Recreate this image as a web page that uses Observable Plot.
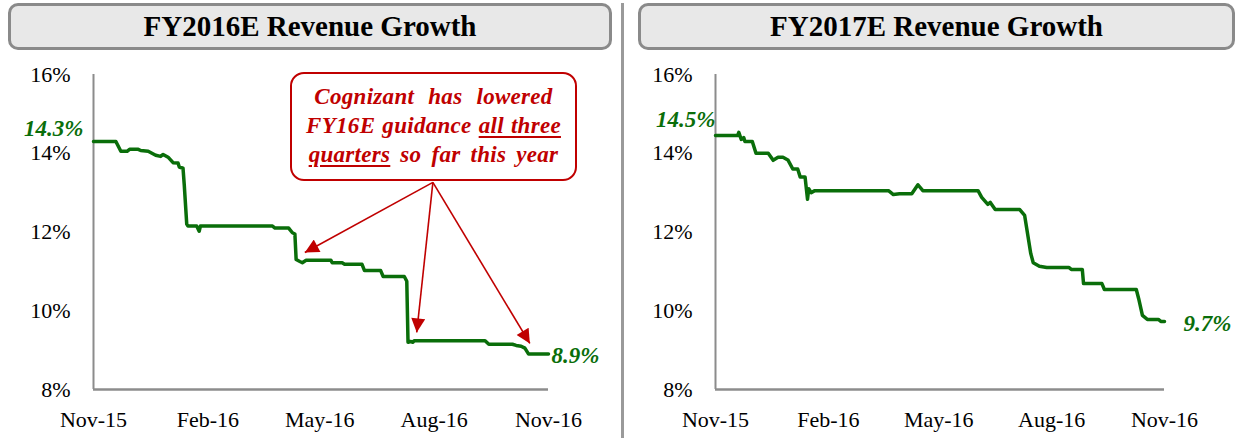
<!DOCTYPE html>
<html>
<head>
<meta charset="utf-8">
<script src="https://cdn.jsdelivr.net/npm/d3@7"></script>
<script src="https://cdn.jsdelivr.net/npm/@observablehq/plot@0.6"></script>
<style>
  body { margin: 0; background: #fff; }
  #wrap { position: relative; width: 1239px; height: 438px; overflow: hidden; font-family: "Liberation Serif", serif; }
  .title { position: absolute; top: 3px; height: 47px; box-sizing: border-box; border: 3px solid #8a8a8a; border-radius: 10px;
           background: #e8e8e8; text-align: center; font-weight: bold; font-size: 29px; line-height: 41px; color: #000; }
  .sep { position: absolute; left: 621px; top: 3px; bottom: 0; width: 3px; background: #9a9a9a; }
  .plot { position: absolute; top: 54px; }
  #callout { position: absolute; left: 290px; top: 72px; width: 287px; height: 109px; box-sizing: border-box;
             border: 2px solid #c00000; border-radius: 14px; background: #fff; z-index: 2; }
  #callout .inner { padding-top: 8px; color: #c00000; font-weight: bold; font-style: italic; text-align: center;
                    font-size: 23px; line-height: 29px; letter-spacing: 0.3px; }
  #callout .ln { white-space: nowrap; }
  #callout u { text-decoration-thickness: 2px; text-underline-offset: 3px; }
</style>
</head>
<body>
<div id="wrap">
  <div class="title" style="left:8px;width:604px;" id="t1"></div>
  <div class="title" style="left:638px;width:597px;" id="t2"></div>
  <div class="sep"></div>
  <div class="plot" id="p1" style="left:0px;"></div>
  <div class="plot" id="p2" style="left:620px;"></div>
  <div id="callout"><div class="inner">
    <div class="ln" style="word-spacing:8px;">Cognizant has lowered</div>
    <div class="ln" style="word-spacing:1px;">FY16E guidance <u>all three</u></div>
    <div class="ln" style="word-spacing:4px;"><u>quarters</u> so far this year</div>
  </div></div>
</div>
<script>
// ---- data ----
const titles = ["FY2016E Revenue Growth", "FY2017E Revenue Growth"];
const xDomain = ["2015-11-01", "2016-11-01"];
const yDomain = [8, 16];
const yTicks = [8, 10, 12, 14, 16];
const xTickDates = ["2015-11-01", "2016-02-01", "2016-05-01", "2016-08-01", "2016-11-01"];
const xTickLabels = ["Nov-15", "Feb-16", "May-16", "Aug-16", "Nov-16"];

const fy16Dates = ["2015-11-01","2015-11-19","2015-11-23","2015-11-28","2015-11-30","2015-12-07","2015-12-09","2015-12-15",
  "2015-12-21","2015-12-25","2015-12-27","2015-12-31","2016-01-04","2016-01-08","2016-01-09","2016-01-12","2016-01-13",
  "2016-01-15","2016-01-16","2016-01-23","2016-01-25","2016-01-26","2016-03-24","2016-03-26","2016-04-06","2016-04-09",
  "2016-04-11","2016-04-12","2016-04-15","2016-04-17","2016-04-20","2016-05-10","2016-05-11","2016-05-19","2016-05-21",
  "2016-06-04","2016-06-06","2016-06-19","2016-06-21","2016-07-08","2016-07-10","2016-07-11","2016-07-13","2016-07-15",
  "2016-07-16","2016-09-11","2016-09-14","2016-10-03","2016-10-06","2016-10-10","2016-10-13","2016-10-16","2016-11-01"];
const fy16Values = [14.3,14.3,14.05,14.05,14.1,14.1,14.07,14.05,
  13.95,13.92,13.97,13.9,13.76,13.75,13.65,13.62,13.2,
  12.2,12.15,12.15,12.02,12.15,12.15,12.1,12.1,11.98,
  11.95,11.3,11.25,11.22,11.28,11.28,11.22,11.22,11.18,
  11.18,11.02,11.02,10.87,10.87,10.75,9.2,9.22,9.2,
  9.24,9.24,9.15,9.15,9.12,9.1,9.05,8.9,8.9];

const fy17Dates = ["2015-11-01","2015-11-19","2015-11-20","2015-11-22","2015-11-24","2015-11-25","2015-12-01","2015-12-04",
  "2015-12-14","2015-12-18","2015-12-22","2015-12-26","2015-12-30","2016-01-03","2016-01-07","2016-01-09","2016-01-13",
  "2016-01-15","2016-01-16","2016-01-18","2016-01-21","2016-03-21","2016-03-25","2016-03-30","2016-04-09","2016-04-14",
  "2016-04-18","2016-06-02","2016-06-05","2016-06-10","2016-06-12","2016-06-16","2016-07-06","2016-07-10","2016-07-15",
  "2016-07-17","2016-07-22","2016-07-28","2016-08-15","2016-08-17","2016-08-26","2016-08-27","2016-09-11","2016-09-13",
  "2016-10-09","2016-10-11","2016-10-14","2016-10-18","2016-10-27","2016-10-29","2016-11-01"];
const fy17Values = [14.45,14.45,14.53,14.35,14.4,14.3,14.3,14.0,
  14.0,13.82,13.9,13.9,13.83,13.6,13.6,13.4,13.4,
  12.83,13.1,13.0,13.05,13.05,12.95,12.97,12.97,13.2,
  13.05,13.05,12.88,12.7,12.75,12.57,12.57,12.42,11.45,
  11.22,11.13,11.1,11.1,11.05,11.05,10.69,10.69,10.54,
  10.54,10.3,9.88,9.78,9.78,9.73,9.73];

// end-point labels
const fy16Labels = [{date: "2015-11-01", value: 14.3, text: "14.3%"}, {date: "2016-11-01", value: 8.9, text: "8.9%"}];
const fy17Labels = [{date: "2015-11-01", value: 14.45, text: "14.5%"}, {date: "2016-11-01", value: 9.73, text: "9.7%"}];

// callout arrows (from callout to the three guidance cuts)
const arrowFrom = {date: "2016-07-31", value: 13.26};
const arrowTo = [{date: "2016-04-19", value: 11.48}, {date: "2016-07-18", value: 9.45}, {date: "2016-10-17", value: 9.17}];

// ---- build ----
const P = s => new Date(s + "T00:00:00Z");
const GREEN = "#0a6e0a", RED = "#c00000", AXIS = "#8c8c8c";
const fmtX = new Map(xTickDates.map((d, i) => [+P(d), xTickLabels[i]]));

function chart(dates, values, labels, width, ml, mr, startLabelOffset, endLabelOffset, arrows) {
  const series = dates.map((d, i) => ({date: P(d), value: values[i]}));
  const lab = labels.map(l => ({...l, date: P(l.date)}));
  const marks = [
    Plot.ruleX([P(xDomain[0])], {y1: yDomain[0], y2: yDomain[1], stroke: AXIS, strokeWidth: 2}),
    Plot.ruleY([yDomain[0]], {stroke: AXIS, strokeWidth: 2.5}),
    Plot.axisY({ticks: yTicks, tickSize: 0, tickPadding: 23, tickFormat: d => d + "%", fontSize: 22, label: null}),
    Plot.axisX({ticks: xTickDates.map(P), tickSize: 0, tickPadding: 22, tickFormat: d => fmtX.get(+d), fontSize: 22, label: null}),
    Plot.line(series, {x: "date", y: "value", stroke: GREEN, strokeWidth: 3.5, strokeLinejoin: "round", strokeLinecap: "round"}),
    Plot.text([lab[0]], {x: "date", y: "value", text: "text", textAnchor: "end", dx: startLabelOffset[0], dy: startLabelOffset[1],
      fill: GREEN, fontWeight: "bold", fontStyle: "italic", fontSize: 23}),
    Plot.text([lab[1]], {x: "date", y: "value", text: "text", textAnchor: "start", dx: endLabelOffset[0], dy: endLabelOffset[1],
      fill: GREEN, fontWeight: "bold", fontStyle: "italic", fontSize: 23})
  ];
  if (arrows) {
    const links = arrows.to.map(t => ({x1: P(arrows.from.date), y1: arrows.from.value, x2: P(t.date), y2: t.value}));
    marks.push(Plot.link(links, {x1: "x1", y1: "y1", x2: "x2", y2: "y2", stroke: RED, strokeWidth: 1.6}));
  }
  const svg = Plot.plot({
    width, height: 384, marginLeft: ml, marginRight: mr, marginTop: 20, marginBottom: 49,
    x: {type: "utc", domain: xDomain.map(P), label: null},
    y: {domain: yDomain, label: null},
    style: {fontFamily: "Liberation Serif, serif", fontSize: "22px", color: "#000", background: "transparent", overflow: "visible"},
    marks
  });
  if (arrows) {
    const ns = "http://www.w3.org/2000/svg";
    const defs = document.createElementNS(ns, "defs");
    const m = document.createElementNS(ns, "marker");
    m.setAttribute("id", "redhead");
    m.setAttribute("viewBox", "0 0 10 10");
    m.setAttribute("refX", "10"); m.setAttribute("refY", "5");
    m.setAttribute("markerUnits", "userSpaceOnUse");
    m.setAttribute("markerWidth", "16"); m.setAttribute("markerHeight", "14");
    m.setAttribute("orient", "auto");
    const p = document.createElementNS(ns, "path");
    p.setAttribute("d", "M0,0 L10,5 L0,10 z"); p.setAttribute("fill", RED);
    m.appendChild(p); defs.appendChild(m); svg.insertBefore(defs, svg.firstChild);
    svg.querySelectorAll('g[aria-label="link"] path').forEach(e => e.setAttribute("marker-end", "url(#redhead)"));
  }
  return svg;
}

document.getElementById("t1").textContent = titles[0];
document.getElementById("t2").textContent = titles[1];
document.getElementById("p1").appendChild(chart(fy16Dates, fy16Values, fy16Labels, 620, 93, 72, [-10, -13], [3, 2], {from: arrowFrom, to: arrowTo}));
document.getElementById("p2").appendChild(chart(fy17Dates, fy17Values, fy17Labels, 619, 95, 75, [0, -16], [19, 2], null));
</script>
</body>
</html>
